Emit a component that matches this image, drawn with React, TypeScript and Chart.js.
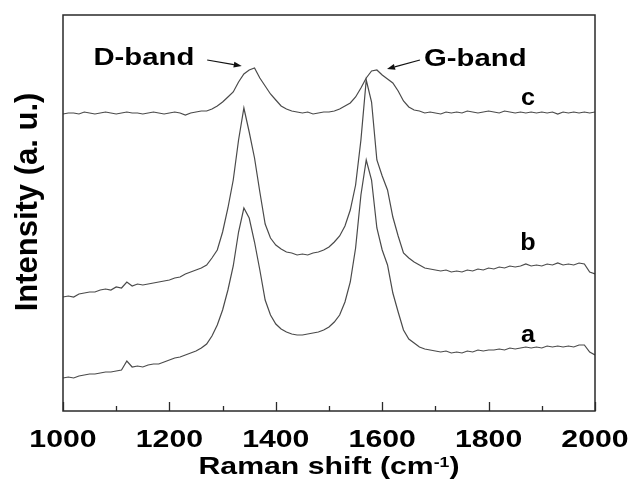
import React, { useEffect, useRef } from "react";
import { Chart, registerables } from "chart.js";

Chart.register(...registerables);

// Raman shift (cm-1), sampled every 10 cm-1
const wavenumbers = [
  1000, 1010, 1020, 1030, 1040, 1050, 1060, 1070, 1080, 1090,
  1100, 1110, 1120, 1130, 1140, 1150, 1160, 1170, 1180, 1190,
  1200, 1210, 1220, 1230, 1240, 1250, 1260, 1270, 1280, 1290,
  1300, 1310, 1320, 1330, 1340, 1350, 1360, 1370, 1380, 1390,
  1400, 1410, 1420, 1430, 1440, 1450, 1460, 1470, 1480, 1490,
  1500, 1510, 1520, 1530, 1540, 1550, 1560, 1570, 1580, 1590,
  1600, 1610, 1620, 1630, 1640, 1650, 1660, 1670, 1680, 1690,
  1700, 1710, 1720, 1730, 1740, 1750, 1760, 1770, 1780, 1790,
  1800, 1810, 1820, 1830, 1840, 1850, 1860, 1870, 1880, 1890,
  1900, 1910, 1920, 1930, 1940, 1950, 1960, 1970, 1980, 1990,
  2000,
];

// Intensities (arbitrary units, curves offset vertically)
const seriesA = [
  33, 34, 33, 35, 36, 37, 37, 38, 39, 39,
  40, 41, 50, 44, 45, 44, 46, 47, 47, 49,
  51, 53, 54, 56, 58, 60, 63, 67, 75, 86,
  101, 121, 145, 179, 203, 193, 169, 141, 111, 96,
  87, 82, 79, 77, 76, 76, 77, 78, 79, 81,
  84, 89, 96, 109, 129, 163, 216, 251, 231, 183,
  161, 146, 118, 99, 81, 72, 68, 64, 62, 61,
  60, 59, 60, 58, 59, 58, 60, 59, 61, 60,
  61, 61, 62, 61, 63, 62, 63, 64, 63, 64,
  63, 65, 64, 65, 64, 65, 64, 66, 66, 59,
  56,
];

const seriesB = [
  114, 115, 114, 117, 118, 119, 119, 121, 122, 121,
  124, 123, 129, 125, 127, 126, 127, 128, 129, 130,
  131, 133, 134, 137, 139, 141, 143, 146, 153, 161,
  179, 203, 231, 271, 303, 279, 253, 219, 187, 173,
  166, 162, 159, 158, 156, 157, 156, 158, 159, 161,
  164, 169, 175, 185, 201, 226, 271, 331, 309, 251,
  235, 221, 194, 175, 158, 153, 149, 146, 143, 142,
  141, 140, 141, 139, 140, 139, 141, 140, 142, 141,
  143, 142, 144, 143, 145, 144, 145, 147, 145, 146,
  145, 147, 146, 148, 146, 147, 146, 148, 147, 139,
  137,
];

const seriesC = [
  297, 298, 298, 297, 299, 298, 297, 298, 299, 298,
  297, 298, 299, 298, 298, 297, 298, 299, 298, 297,
  298, 299, 298, 296, 298, 299, 300, 300, 302, 305,
  309, 314, 319, 329, 337, 341, 343, 333, 325, 317,
  311, 305, 302, 300, 299, 298, 299, 297, 298, 299,
  299, 300, 302, 305, 308, 314, 323, 333, 340, 341,
  336, 332, 328, 320, 310, 304, 301, 300, 298, 299,
  298, 297, 299, 298, 299, 298, 300, 299, 298, 299,
  300, 299, 298, 300, 299, 298, 299, 298, 299, 298,
  299, 298, 299, 297, 299, 298, 299, 298, 299, 298,
  299,
];

const seriesNames = ["a", "b", "c"];
const majorTicks = [1000, 1200, 1400, 1600, 1800, 2000];
const minorTicks = [1100, 1300, 1500, 1700, 1900];
const bandNames = ["D-band", "G-band"];
const xTitle = "Raman shift (cm";
const xTitleSup = "-1";
const yTitle = "Intensity (a. u.)";

// annotation placement (in data units)
const annot = {
  curveLabelX: 1874,
  curveLabelY: [69, 161, 306],
  bandLabelX: [1152, 1775],
  bandLabelY: [346, 345],
  arrows: [
    { from: [1271, 351], to: [1336, 345] },
    { from: [1671, 351], to: [1609, 342] },
  ],
};

const FONT = '"Liberation Sans", Arial, Helvetica, sans-serif';

function stretchText(ctx: CanvasRenderingContext2D, text: string, x: number, y: number, sx: number, align: CanvasTextAlign) {
  ctx.save();
  ctx.translate(x, y);
  ctx.scale(sx, 1);
  ctx.textAlign = align;
  ctx.textBaseline = "alphabetic";
  ctx.fillText(text, 0, 0);
  ctx.restore();
}

const decorPlugin = {
  id: "decor",
  afterDatasetsDraw(chart: any) {
    const { ctx, chartArea: ca, scales } = chart;
    const xs = scales.x;
    const ys = scales.y;
    ctx.save();
    // frame
    ctx.strokeStyle = "#2a2a2a";
    ctx.lineWidth = 1.5;
    ctx.strokeRect(ca.left, ca.top, ca.right - ca.left, ca.bottom - ca.top);
    // inward ticks on bottom axis
    ctx.lineWidth = 1.3;
    ctx.beginPath();
    majorTicks.forEach((v) => {
      const px = Math.round(xs.getPixelForValue(v)) + 0.5;
      ctx.moveTo(px, ca.bottom);
      ctx.lineTo(px, ca.bottom - 9);
    });
    minorTicks.forEach((v) => {
      const px = Math.round(xs.getPixelForValue(v)) + 0.5;
      ctx.moveTo(px, ca.bottom);
      ctx.lineTo(px, ca.bottom - 5);
    });
    ctx.stroke();

    ctx.fillStyle = "#000";
    // tick labels
    ctx.font = `bold 24px ${FONT}`;
    majorTicks.forEach((v) => {
      stretchText(ctx, String(v), xs.getPixelForValue(v), ca.bottom + 36, 1.26, "center");
    });

    // x title with superscript
    const sx = 1.26;
    ctx.font = `bold 24px ${FONT}`;
    const w1 = ctx.measureText(xTitle).width;
    const w3 = ctx.measureText(")").width;
    ctx.font = `bold 14px ${FONT}`;
    const w2 = ctx.measureText(xTitleSup).width;
    const total = (w1 + w2 + w3) * sx;
    const cx = (ca.left + ca.right) / 2;
    let start = cx - total / 2;
    const base = ca.bottom + 63;
    ctx.font = `bold 24px ${FONT}`;
    stretchText(ctx, xTitle, start, base, sx, "left");
    start += w1 * sx;
    ctx.font = `bold 14px ${FONT}`;
    stretchText(ctx, xTitleSup, start, base - 7, sx, "left");
    start += w2 * sx;
    ctx.font = `bold 24px ${FONT}`;
    stretchText(ctx, ")", start, base, sx, "left");

    // y title
    ctx.save();
    ctx.font = `bold 31px ${FONT}`;
    ctx.translate(37, (ca.top + ca.bottom) / 2 - 11);
    ctx.rotate(-Math.PI / 2);
    ctx.textAlign = "center";
    ctx.textBaseline = "alphabetic";
    ctx.fillText(yTitle, 0, 0);
    ctx.restore();

    // curve labels
    ctx.font = `bold 24px ${FONT}`;
    seriesNames.forEach((n, i) => {
      stretchText(ctx, n, xs.getPixelForValue(annot.curveLabelX), ys.getPixelForValue(annot.curveLabelY[i]), 1.05, "center");
    });

    // band labels
    bandNames.forEach((n, i) => {
      stretchText(ctx, n, xs.getPixelForValue(annot.bandLabelX[i]), ys.getPixelForValue(annot.bandLabelY[i]), 1.22, "center");
    });

    // arrows
    ctx.strokeStyle = "#111";
    ctx.fillStyle = "#111";
    ctx.lineWidth = 1.1;
    annot.arrows.forEach((a) => {
      const x1 = xs.getPixelForValue(a.from[0]);
      const y1 = ys.getPixelForValue(a.from[1]);
      const x2 = xs.getPixelForValue(a.to[0]);
      const y2 = ys.getPixelForValue(a.to[1]);
      const ang = Math.atan2(y2 - y1, x2 - x1);
      const hl = 8;
      const hw = 3;
      const bx = x2 - hl * Math.cos(ang);
      const by = y2 - hl * Math.sin(ang);
      ctx.beginPath();
      ctx.moveTo(x1, y1);
      ctx.lineTo(bx, by);
      ctx.stroke();
      ctx.beginPath();
      ctx.moveTo(x2, y2);
      ctx.lineTo(bx + hw * Math.sin(ang), by - hw * Math.cos(ang));
      ctx.lineTo(bx - hw * Math.sin(ang), by + hw * Math.cos(ang));
      ctx.closePath();
      ctx.fill();
    });
    ctx.restore();
  },
};

export default function App() {
  const ref = useRef<HTMLCanvasElement | null>(null);
  useEffect(() => {
    document.body.style.margin = "0";
    if (!ref.current) return;
    const mk = (vals: number[]) => wavenumbers.map((w, i) => ({ x: w, y: vals[i] }));
    const common = {
      borderColor: "#4a4a4a",
      borderWidth: 1.2,
      pointRadius: 0,
      tension: 0,
      fill: false,
    };
    const chart = new Chart(ref.current, {
      type: "line",
      data: {
        datasets: [
          { label: seriesNames[0], data: mk(seriesA), ...common },
          { label: seriesNames[1], data: mk(seriesB), ...common },
          { label: seriesNames[2], data: mk(seriesC), ...common },
        ],
      },
      options: {
        animation: false,
        responsive: false,
        devicePixelRatio: 1,
        layout: { padding: { left: 63, right: 35, top: 15, bottom: 69 } },
        plugins: { legend: { display: false }, tooltip: { enabled: false } },
        events: [],
        scales: {
          x: { type: "linear", min: 1000, max: 2000, display: false },
          y: { type: "linear", min: 0, max: 396, display: false },
        },
      },
      plugins: [decorPlugin],
    });
    return () => chart.destroy();
  }, []);
  return (
    <div style={{ position: "absolute", left: 0, top: 0, width: 630, height: 480, background: "#fff" }}>
      <canvas ref={ref} width={630} height={480} style={{ display: "block" }} />
    </div>
  );
}
